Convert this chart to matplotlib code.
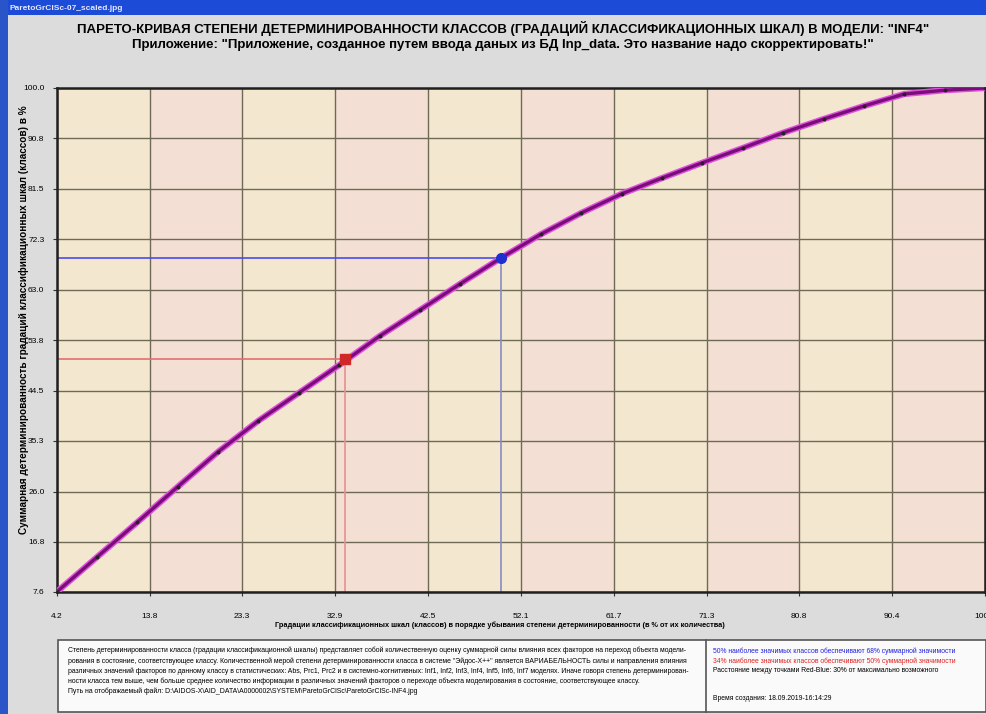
import numpy as np
import matplotlib
matplotlib.use('Agg')
import matplotlib.pyplot as plt
from matplotlib.patches import Rectangle

plt.rcParams['font.family'] = ['Liberation Sans', 'DejaVu Sans']

# cumulative determinacy of classes, % (24 classes)
class_pct = [4.17, 8.33, 12.5, 16.67, 20.83, 25.0, 29.17, 33.33, 37.5, 41.67, 45.83, 50.0,
             54.17, 58.33, 62.5, 66.67, 70.83, 75.0, 79.17, 83.33, 87.5, 91.67, 95.83, 100.0]
cum_pct = [7.6, 14.0, 20.4, 26.9, 33.3, 39.0, 44.1, 49.2, 54.5, 59.3, 64.1, 68.8,
           73.2, 77.1, 80.6, 83.5, 86.3, 89.0, 91.8, 94.3, 96.7, 98.9, 99.6, 100.0]
red_pt = (33.9, 50.3)
blue_pt = (50.0, 68.8)
x_ticks = [4.2, 13.8, 23.3, 32.9, 42.5, 52.1, 61.7, 71.3, 80.8, 90.4, 100.0]
y_ticks = [7.6, 16.8, 26.0, 35.3, 44.5, 53.8, 63.0, 72.3, 81.5, 90.8, 100.0]

title1 = 'ПАРЕТО-КРИВАЯ СТЕПЕНИ ДЕТЕРМИНИРОВАННОСТИ КЛАССОВ (ГРАДАЦИЙ КЛАССИФИКАЦИОННЫХ ШКАЛ) В МОДЕЛИ: "INF4"'
title2 = 'Приложение: "Приложение, созданное путем ввода даных из БД Inp_data. Это название надо скорректировать!"'
xlabel = 'Градации классификационных шкал (классов) в порядке убывания степени детерминированности (в % от их количества)'
ylabel = 'Суммарная детерминированность градаций классификационных шкал (классов) в %'
note_left = ('Степень детерминированности класса (градации классификационной шкалы) представляет собой количественную оценку суммарной силы влияния всех факторов на переход объекта модели-\n'
             'рования в состояние, соответствующее классу. Количественной мерой степени детерминированности класса в системе "Эйдос-Х++" является ВАРИАБЕЛЬНОСТЬ силы и направления влияния\n'
             'различных значений факторов по данному классу в статистических: Abs, Prc1, Prc2 и в системно-когнитивных: Inf1, Inf2, Inf3, Inf4, Inf5, Inf6, Inf7 моделях. Иначе говоря степень детерминирован-\n'
             'ности класса тем выше, чем больше среднее количество информации в различных значений факторов о переходе объекта моделирования в состояние, соответствующее классу.\n'
             'Путь на отображаемый файл: D:\\AIDOS-X\\AID_DATA\\A0000002\\SYSTEM\\ParetoGrClSc\\ParetoGrClSc-INF4.jpg')
note_blue = '50% наиболее значимых классов обеспечивают 68% суммарной значимости'
note_red = '34% наиболее значимых классов обеспечивают 50% суммарной значимости'
note_dist = 'Расстояние между точками Red-Blue: 30% от максимально возможного'
note_time = 'Время создания: 18.09.2019-16:14:29'

W, H = 986, 714
fig = plt.figure(figsize=(W / 100, H / 100), dpi=100)
fig.patch.set_facecolor('#DCDCDC')

# window frame: title bar and left border
fig.patches.append(Rectangle((0, 1 - 15 / H), 1, 15 / H, transform=fig.transFigure,
                             facecolor='#1C4BD8', edgecolor='none', zorder=0))
fig.patches.append(Rectangle((0, 0), 8 / W, 1, transform=fig.transFigure,
                             facecolor='#2A55C8', edgecolor='none', zorder=0))
fig.text(10 / W, 1 - 8 / H, 'ParetoGrClSc-07_scaled.jpg', color='#E8E8FF', fontsize=6,
         fontweight='bold', va='center', ha='left')

fig.text(503 / W, 1 - 28 / H, title1, ha='center', va='center', fontsize=9.5, fontweight='bold')
fig.text(503 / W, 1 - 45 / H, title2, ha='center', va='center', fontsize=9.5, fontweight='bold')

ax = fig.add_axes([57 / W, 1 - 592 / H, 928 / W, 504 / H])
ax.set_xlim(x_ticks[0], x_ticks[-1])
ax.set_ylim(y_ticks[0], y_ticks[-1])

# alternating background bands
for i in range(len(x_ticks) - 1):
    ax.axvspan(x_ticks[i], x_ticks[i + 1], color='#F4E7D0' if i % 2 == 0 else '#F3DFD3',
               zorder=0, lw=0)

ax.set_xticks(x_ticks)
ax.set_yticks(y_ticks)
ax.set_xticklabels(['%.1f' % v for v in x_ticks], fontsize=6)
ax.set_yticklabels(['%.1f' % v for v in y_ticks], fontsize=6)
ax.tick_params(length=3, width=0.8, color='#333333', pad=12)
ax.tick_params(axis='y', pad=6)
ax.grid(True, color='#6E6A55', lw=1.0, zorder=1)
for s in ax.spines.values():
    s.set_linewidth(1.8)
    s.set_color('#202020')

# marker lines
ax.plot([x_ticks[0], blue_pt[0]], [blue_pt[1], blue_pt[1]], color='#4A4AF0', lw=1.2, zorder=2)
ax.plot([blue_pt[0], blue_pt[0]], [y_ticks[0], blue_pt[1]], color='#8A8AC8', lw=1.2, zorder=2)
ax.plot([x_ticks[0], red_pt[0]], [red_pt[1], red_pt[1]], color='#E07070', lw=1.2, zorder=2)
ax.plot([red_pt[0], red_pt[0]], [y_ticks[0], red_pt[1]], color='#E89090', lw=1.2, zorder=2)

# pareto curve
ax.plot(class_pct, cum_pct, color='#E050E0', lw=4.5, zorder=3, solid_capstyle='round')
ax.plot(class_pct, cum_pct, color='#7A0E78', lw=2.4, zorder=4)
ax.plot(class_pct, cum_pct, 'o', color='#222222', ms=1.8, zorder=5)
ax.plot(*blue_pt, 'o', color='#2030D0', ms=7, zorder=6)
ax.plot(*red_pt, 's', color='#D02828', ms=6.5, zorder=6)

fig.text(500 / W, 1 - 625 / H, xlabel, ha='center', va='center', fontsize=5.3, fontweight='bold')
fig.text(24 / W, 1 - 320 / H, ylabel, ha='center', va='center', fontsize=7.2, fontweight='bold',
         rotation=90)

# note box
fig.patches.append(Rectangle((58 / W, 1 - 712 / H), 928 / W, 72 / H, transform=fig.transFigure,
                             facecolor='#FAFAFA', edgecolor='#555555', lw=1.2, zorder=1))
fig.lines.append(plt.Line2D([706 / W, 706 / W], [1 - 712 / H, 1 - 640 / H],
                            transform=fig.transFigure, color='#555555', lw=1.2))
fig.text(68 / W, 1 - 647 / H, note_left, ha='left', va='top', fontsize=4.95, linespacing=1.5)
fig.text(713 / W, 1 - 651 / H, note_blue, ha='left', va='center', fontsize=4.9, color='#2020E0')
fig.text(713 / W, 1 - 661 / H, note_red, ha='left', va='center', fontsize=4.9, color='#E02020')
fig.text(713 / W, 1 - 671 / H, note_dist, ha='left', va='center', fontsize=4.9)
fig.text(713 / W, 1 - 698 / H, note_time, ha='left', va='center', fontsize=4.9)

fig.savefig('out.png', dpi=100)
